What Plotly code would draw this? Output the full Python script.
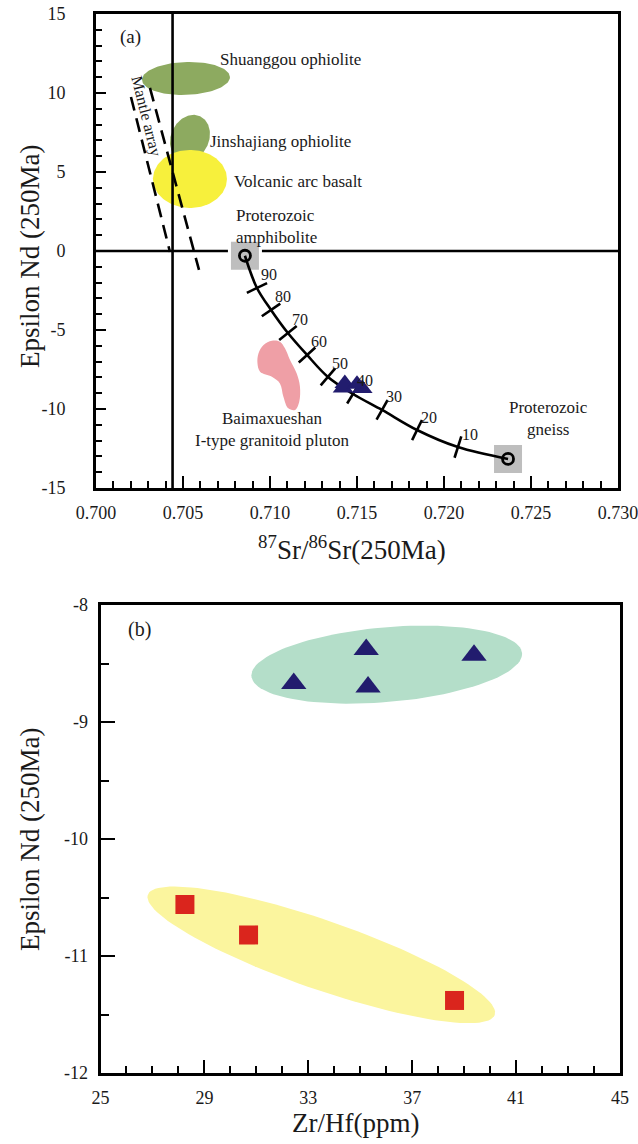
import numpy as np
import plotly.graph_objects as go

# ---------------- data ----------------
# Panel (a): 87Sr/86Sr(250Ma) vs Epsilon Nd(250Ma)
A_X_TICKS = [0.700, 0.705, 0.710, 0.715, 0.720, 0.725, 0.730]
A_X_TICKTEXT = ["0.700", "0.705", "0.710", "0.715", "0.720", "0.725", "0.730"]
A_Y_TICKS = [-15, -10, -5, 0, 5, 10, 15]
A_Y_TICKTEXT = ["-15", "-10", "-5", "0", "5", "10", "15"]

BULK_EARTH_SR = 0.7044
CHUR_ND = 0.0

# mixing curve amphibolite -> gneiss, with tick positions (90 ... 10 %)
MIX_X = [0.70856, 0.70925, 0.71006, 0.71103, 0.71213, 0.71333, 0.71477,
         0.71644, 0.71845, 0.72080, 0.72368]
MIX_Y = [-0.30, -2.34, -3.73, -5.19, -6.58, -7.97, -9.05,
         -10.06, -11.33, -12.41, -13.16]
MIX_LABELS = ["90", "80", "70", "60", "50", "40", "30", "20", "10"]

END_X = [0.70856, 0.72368]
END_Y = [-0.30, -13.16]

# mantle array (two dashed bounding lines)
MANTLE_L_X = [0.70201, 0.70425]
MANTLE_L_Y = [9.75, -0.06]
MANTLE_R_X = [0.70310, 0.70592]
MANTLE_R_Y = [10.32, -1.20]

# samples in panel (a)
A_TRI_X = [0.7142, 0.7143, 0.7153, 0.7150]
A_TRI_Y = [-8.67, -8.38, -8.70, -8.43]

# fields in panel (a): centre (data), semi-axes (px), tilt (deg)
SHUANGGOU = dict(cx=0.70517, cy=10.92, a=44, b=16.5, ang=2)
JINSHAJIANG = dict(cx=0.70540, cy=7.15, a=24, b=19, ang=65)
VAB = dict(cx=0.70540, cy=4.56, a=37, b=29, ang=0)
BAIMA_X = [0.71011, 0.70963, 0.70934, 0.70928, 0.70943, 0.71011, 0.71057,
           0.71077, 0.71105, 0.71144, 0.71168, 0.71172, 0.71153, 0.71115,
           0.71086, 0.71057]
BAIMA_Y = [-5.68, -5.95, -6.47, -7.11, -7.64, -7.96, -8.38, -9.22,
           -9.96, -10.06, -9.54, -8.58, -7.74, -6.90, -6.16, -5.74]

# Panel (b): Zr/Hf vs Epsilon Nd(250Ma)
B_X_TICKS = [25, 29, 33, 37, 41, 45]
B_Y_TICKS = [-12, -11, -10, -9, -8]
B_Y_TICKTEXT = ["-12", "-11", "-10", "-9", "-8"]
B_TRI_X = [32.44, 35.23, 35.30, 39.38]
B_TRI_Y = [-8.67, -8.38, -8.70, -8.43]
B_SQ_X = [28.25, 30.70, 38.63]
B_SQ_Y = [-10.56, -10.82, -11.38]
B_GREEN = dict(cx=36.02, cy=-8.51, a=135.8, b=37.4, ang=4.9)
B_YELLOW = dict(cx=33.50, cy=-10.99, a=183.6, b=34.5, ang=-19.1)

# ---------------- layout geometry ----------------
W, H = 638, 1144
A_XDOM = [96 / W, 618 / W]
A_YDOM = [1 - 488 / H, 1 - 14 / H]
B_XDOM = [100.5 / W, 620 / W]
B_YDOM = [1 - 1073 / H, 1 - 605 / H]
A_XR, A_YR = [0.700, 0.730], [-15, 15]
B_XR, B_YR = [25, 45], [-12, -8]

a_sx = (A_XDOM[1] - A_XDOM[0]) * W / (A_XR[1] - A_XR[0])
a_sy = (A_YDOM[1] - A_YDOM[0]) * H / (A_YR[1] - A_YR[0])
b_sx = (B_XDOM[1] - B_XDOM[0]) * W / (B_XR[1] - B_XR[0])
b_sy = (B_YDOM[1] - B_YDOM[0]) * H / (B_YR[1] - B_YR[0])

FONT = "Liberation Serif, Times New Roman, serif"
TXT = "#1a1a1a"


def ellipse(p, sx, sy, n=120):
    t = np.linspace(0, 2 * np.pi, n)
    th = np.deg2rad(p["ang"])
    xp = p["a"] * np.cos(t) * np.cos(th) - p["b"] * np.sin(t) * np.sin(th)
    yp = p["a"] * np.cos(t) * np.sin(th) + p["b"] * np.sin(t) * np.cos(th)
    return p["cx"] + xp / sx, p["cy"] + yp / sy


fig = go.Figure()


def fill(x, y, color, xa="x", ya="y", shape="linear"):
    fig.add_trace(go.Scatter(x=list(x), y=list(y), mode="lines", fill="toself",
                             fillcolor=color, line=dict(width=0, color=color, shape=shape),
                             xaxis=xa, yaxis=ya, hoverinfo="skip", showlegend=False))


# ---- panel (a) fields
fill(*ellipse(SHUANGGOU, a_sx, a_sy), "#8DAA60")
fill(*ellipse(JINSHAJIANG, a_sx, a_sy), "#8DAA60")
fill(*ellipse(VAB, a_sx, a_sy), "#F7F03C")
fill(BAIMA_X + BAIMA_X[:1], BAIMA_Y + BAIMA_Y[:1], "#EF9FA6", shape="spline")

# mantle array dashed lines
for mx, my in ((MANTLE_L_X, MANTLE_L_Y), (MANTLE_R_X, MANTLE_R_Y)):
    fig.add_trace(go.Scatter(x=mx, y=my, mode="lines",
                             line=dict(color="black", width=2.6, dash="14px,8px"),
                             xaxis="x", yaxis="y", hoverinfo="skip", showlegend=False))

# grey squares behind end-members
fig.add_trace(go.Scatter(x=END_X, y=END_Y, mode="markers",
                         marker=dict(symbol="square", size=31, color="#BEBEBE",
                                     line=dict(color="white", width=3)),
                         xaxis="x", yaxis="y", hoverinfo="skip", showlegend=False))
# mixing curve
fig.add_trace(go.Scatter(x=MIX_X, y=MIX_Y, mode="lines",
                         line=dict(color="black", width=2.6, shape="spline", smoothing=1.0),
                         xaxis="x", yaxis="y", hoverinfo="skip", showlegend=False))
# perpendicular tick marks on the curve
angles = []
for i in range(1, len(MIX_X) - 1):
    dx = (MIX_X[i + 1] - MIX_X[i - 1]) * a_sx
    dy = -(MIX_Y[i + 1] - MIX_Y[i - 1]) * a_sy
    angles.append(float(np.degrees(np.arctan2(dy, dx))))
fig.add_trace(go.Scatter(x=MIX_X[1:-1], y=MIX_Y[1:-1], mode="markers",
                         marker=dict(symbol="line-ns", size=16, angle=angles, color="black",
                                     line=dict(color="black", width=2.6)),
                         xaxis="x", yaxis="y", hoverinfo="skip", showlegend=False))
fig.add_trace(go.Scatter(x=END_X, y=END_Y, mode="markers",
                         marker=dict(symbol="circle-open", size=11, color="black",
                                     line=dict(color="black", width=2.8)),
                         xaxis="x", yaxis="y", hoverinfo="skip", showlegend=False))
fig.add_trace(go.Scatter(x=A_TRI_X, y=A_TRI_Y, mode="markers",
                         marker=dict(symbol="triangle-up", size=18, color="#221C6E",
                                     line=dict(width=0)),
                         xaxis="x", yaxis="y", hoverinfo="skip", showlegend=False))

# ---- panel (b)
fill(*ellipse(B_GREEN, b_sx, b_sy), "#B4DEC9", "x2", "y2")
fill(*ellipse(B_YELLOW, b_sx, b_sy), "#FBF59E", "x2", "y2")
fig.add_trace(go.Scatter(x=B_TRI_X, y=B_TRI_Y, mode="markers",
                         marker=dict(symbol="triangle-up", size=22, color="#221C6E",
                                     line=dict(width=0)),
                         xaxis="x2", yaxis="y2", hoverinfo="skip", showlegend=False))
fig.add_trace(go.Scatter(x=B_SQ_X, y=B_SQ_Y, mode="markers",
                         marker=dict(symbol="square", size=19, color="#DA251D",
                                     line=dict(width=0)),
                         xaxis="x2", yaxis="y2", hoverinfo="skip", showlegend=False))

# reference lines in (a)
shapes = [
    dict(type="line", xref="x", yref="y domain", x0=BULK_EARTH_SR, x1=BULK_EARTH_SR,
         y0=0, y1=1, line=dict(color="black", width=2.6), layer="above"),
    dict(type="line", xref="x domain", yref="y", x0=0, x1=1, y0=CHUR_ND, y1=CHUR_ND,
         line=dict(color="black", width=2.6), layer="below"),
]

tickfont = dict(family=FONT, size=18, color=TXT)


def axis_common():
    return dict(showgrid=False, zeroline=False, showline=True, linecolor="black",
                linewidth=3, mirror=True, ticks="inside", tickcolor="black",
                tickwidth=2.4, tickfont=tickfont, fixedrange=True, automargin=False,
                ticklabeloverflow="allow")


layout = dict(
    width=W, height=H, margin=dict(l=0, r=0, t=0, b=0, pad=0), autosize=False,
    paper_bgcolor="white", plot_bgcolor="white", showlegend=False,
    xaxis=dict(**axis_common(), domain=A_XDOM, range=A_XR, anchor="y",
               tickvals=A_X_TICKS, ticktext=A_X_TICKTEXT, ticklen=12,
               ticklabelstandoff=6,
               minor=dict(dtick=0.001, tick0=0.7, ticklen=7, tickwidth=2.4,
                          ticks="inside", tickcolor="black", showgrid=False)),
    yaxis=dict(**axis_common(), domain=A_YDOM, range=A_YR, anchor="x",
               tickvals=A_Y_TICKS, ticktext=A_Y_TICKTEXT, ticklen=10,
               ticklabelstandoff=24,
               minor=dict(dtick=1, tick0=0, ticklen=6, tickwidth=2.4,
                          ticks="inside", tickcolor="black", showgrid=False)),
    xaxis2=dict(**axis_common(), domain=B_XDOM, range=B_XR, anchor="y2",
                tickvals=B_X_TICKS, ticklen=13, ticklabelstandoff=6,
                minor=dict(dtick=1, tick0=25, ticklen=7, tickwidth=2.4,
                           ticks="inside", tickcolor="black", showgrid=False)),
    yaxis2=dict(**axis_common(), domain=B_YDOM, range=B_YR, anchor="x2",
                tickvals=B_Y_TICKS, ticktext=B_Y_TICKTEXT, ticklen=14,
                ticklabelstandoff=6,
                minor=dict(dtick=0.5, tick0=-12, ticklen=8, tickwidth=2.4,
                           ticks="inside", tickcolor="black", showgrid=False)),
    shapes=shapes,
)
fig.update_layout(**layout)


def ann(text, x, y, size, xref="x", yref="y", xanchor="left", yanchor="middle",
        angle=0, align="left", **kw):
    fig.add_annotation(text=text, x=x, y=y, xref=xref, yref=yref, showarrow=False,
                       xanchor=xanchor, yanchor=yanchor, textangle=angle, align=align,
                       font=dict(family=FONT, size=size, color=TXT), **kw)


# panel (a) labels
ann("(a)", 0.70201, 13.54, 19, xanchor="center")
ann("Shuanggou ophiolite", 0.70701, 12.09, 17)
ann("Jinshajiang ophiolite", 0.70644, 6.92, 17)
ann("Volcanic arc basalt", 0.70780, 4.39, 17)
ann("Proterozoic<br>amphibolite", 0.70795, 1.58, 17)
ann("Mantle array", 0.70287, 8.54, 16, xanchor="center", angle=76)
ann("Baimaxueshan<br>I-type granitoid pluton", 0.71011, -11.27, 17,
    xanchor="center", align="center")
ann("Proterozoic<br>gneiss", 0.72598, -10.63, 17, xanchor="center", align="center")
for lx, ly, lt in zip(MIX_X[1:-1], MIX_Y[1:-1], MIX_LABELS):
    ann(lt, lx, ly, 16, xshift=2, yshift=13)

# panel (b) label
ann("(b)", 26.52, -8.21, 20, xref="x2", yref="y2", xanchor="center")

# axis titles
ann("Epsilon Nd (250Ma)", 30 / W, 1 - 257 / H, 27, xref="paper", yref="paper",
    xanchor="center", angle=-90)
ann("<sup>87</sup>Sr/<sup>86</sup>Sr(250Ma)", 352 / W, 1 - 548 / H, 27,
    xref="paper", yref="paper", xanchor="center")
ann("Epsilon Nd (250Ma)", 30 / W, 1 - 840 / H, 27, xref="paper", yref="paper",
    xanchor="center", angle=-90)
ann("Zr/Hf(ppm)", 355 / W, 1 - 1123 / H, 27, xref="paper", yref="paper",
    xanchor="center")

fig.write_html("out.html")
